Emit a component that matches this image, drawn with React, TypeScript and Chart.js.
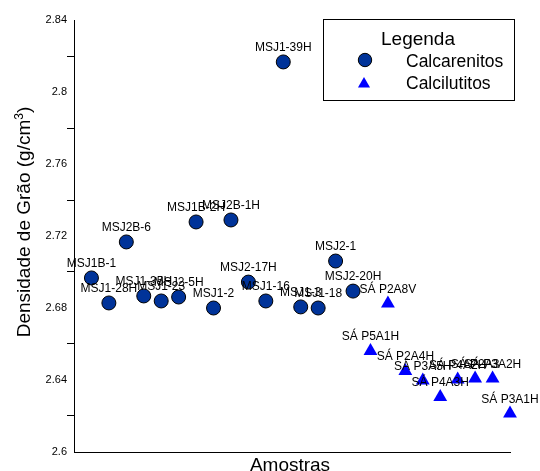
import React, { useEffect, useRef } from 'react';
import { Chart, registerables } from 'chart.js';

Chart.register(...registerables);

const FONT = '"Liberation Sans", Arial, Helvetica, sans-serif';

// Calcarenitos
const calcareniteNames = [
  'MSJ1B-1', 'MSJ1-28H', 'MSJ2B-6', 'MSJ1-35H', 'MSJ1-23', 'MSJ2-5H', 'MSJ1B-2H', 'MSJ1-2',
  'MSJ2B-1H', 'MSJ2-17H', 'MSJ1-16', 'MSJ1-39H', 'MSJ1-3', 'MSJ1-18', 'MSJ2-1', 'MSJ2-20H',
];
const calcareniteX = [1, 2, 3, 4, 5, 6, 7, 8, 9, 10, 11, 12, 13, 14, 15, 16];
const calcareniteY = [
  2.6967, 2.6828, 2.7167, 2.6867, 2.6839, 2.6861, 2.7278, 2.68,
  2.7289, 2.6944, 2.6839, 2.8167, 2.6806, 2.68, 2.7061, 2.6894,
];

// Calcilutitos
const calciluteNames = [
  'SÁ P5A1H', 'SÁ P2A8V', 'SÁ P2A4H', 'SÁ P3A5H', 'SÁ P4A3H', 'SÁ P4A2H', 'SÁ P2A3', 'SÁ P3A2H', 'SÁ P3A1H',
];
const calciluteX = [17, 18, 19, 20, 21, 22, 23, 24, 25];
const calciluteY = [2.6561, 2.6825, 2.645, 2.6397, 2.6306, 2.6403, 2.6408, 2.6408, 2.6214];

const seriesNames = ['Calcarenitos', 'Calcilutitos'];
const legendTitle = 'Legenda';
const xTitle = 'Amostras';
const yTitleMain = 'Densidade de Grão (g/cm';
const yTitleSup = '3';
const yTitleEnd = ')';

const Y_MIN = 2.6;
const Y_MAX = 2.84;
const Y_STEP = 0.02;
const X_MIN = 0;
const X_MAX = 25;

const CIRCLE_FILL = '#003399';
const TRI_FILL = '#0000ff';

const pointLabels = [calcareniteNames, calciluteNames];

const isMajor = (v: number) => Math.round(v * 100) % 4 === 0;

const labelPlugin = {
  id: 'pointLabels',
  afterDatasetsDraw(chart: any) {
    const ctx = chart.ctx;
    ctx.save();
    ctx.font = `12px ${FONT}`;
    ctx.fillStyle = '#000';
    ctx.textAlign = 'center';
    ctx.textBaseline = 'middle';
    chart.data.datasets.forEach((_ds: any, i: number) => {
      const meta = chart.getDatasetMeta(i);
      meta.data.forEach((el: any, j: number) => {
        ctx.fillText(pointLabels[i][j], el.x, el.y - 14);
      });
    });
    ctx.restore();
  },
};

const decorPlugin = {
  id: 'decor',
  afterDraw(chart: any) {
    const ctx = chart.ctx;
    const area = chart.chartArea;
    ctx.save();
    // Legend box
    const bx = 323, by = 19, bw = 191, bh = 81;
    ctx.fillStyle = '#fff';
    ctx.fillRect(bx, by, bw, bh);
    ctx.strokeStyle = '#000';
    ctx.lineWidth = 1;
    ctx.strokeRect(bx + 0.5, by + 0.5, bw, bh);
    ctx.fillStyle = '#000';
    ctx.textAlign = 'center';
    ctx.textBaseline = 'alphabetic';
    ctx.font = `19px ${FONT}`;
    ctx.fillText(legendTitle, 418, 45);
    // circle
    ctx.beginPath();
    ctx.arc(365, 60, 6.7, 0, Math.PI * 2);
    ctx.fillStyle = CIRCLE_FILL;
    ctx.fill();
    ctx.strokeStyle = '#000';
    ctx.stroke();
    // triangle
    const tr = 7;
    ctx.beginPath();
    for (let k = 0; k < 3; k++) {
      const a = (k * 2 * Math.PI) / 3;
      const px = 364 + Math.sin(a) * tr;
      const py = 84 - Math.cos(a) * tr;
      if (k === 0) ctx.moveTo(px, py);
      else ctx.lineTo(px, py);
    }
    ctx.closePath();
    ctx.fillStyle = TRI_FILL;
    ctx.fill();
    ctx.fillStyle = '#000';
    ctx.textAlign = 'left';
    ctx.font = `17.5px ${FONT}`;
    ctx.fillText(seriesNames[0], 406, 66.5);
    ctx.fillText(seriesNames[1], 406, 89);

    // X title
    ctx.textAlign = 'center';
    ctx.font = `19px ${FONT}`;
    ctx.fillText(xTitle, (area.left + area.right) / 2 - 2, 470.5);

    // Y title (rotated, with superscript)
    ctx.save();
    ctx.translate(30, 222);
    ctx.rotate(-Math.PI / 2);
    const mainFont = `19px ${FONT}`;
    const supFont = `12px ${FONT}`;
    ctx.font = mainFont;
    const w1 = ctx.measureText(yTitleMain).width;
    const w3 = ctx.measureText(yTitleEnd).width;
    ctx.font = supFont;
    const w2 = ctx.measureText(yTitleSup).width;
    const total = w1 + w2 + w3;
    let x0 = -total / 2;
    ctx.textAlign = 'left';
    ctx.font = mainFont;
    ctx.fillText(yTitleMain, x0, 0);
    x0 += w1;
    ctx.font = supFont;
    ctx.fillText(yTitleSup, x0, -7);
    x0 += w2;
    ctx.font = mainFont;
    ctx.fillText(yTitleEnd, x0, 0);
    ctx.restore();

    ctx.restore();
  },
};

export default function App() {
  const canvasRef = useRef<HTMLCanvasElement | null>(null);

  useEffect(() => {
    const canvas = canvasRef.current;
    if (!canvas) return;
    const chart = new Chart(canvas, {
      type: 'scatter',
      data: {
        datasets: [
          {
            label: seriesNames[0],
            data: calcareniteX.map((x, i) => ({ x, y: calcareniteY[i] })),
            pointStyle: 'circle',
            pointRadius: 7,
            pointHoverRadius: 7,
            backgroundColor: CIRCLE_FILL,
            borderColor: '#000',
            borderWidth: 1,
            clip: false,
          },
          {
            label: seriesNames[1],
            data: calciluteX.map((x, i) => ({ x, y: calciluteY[i] })),
            pointStyle: 'triangle',
            pointRadius: 8,
            pointHoverRadius: 8,
            backgroundColor: TRI_FILL,
            borderColor: TRI_FILL,
            borderWidth: 0,
            clip: false,
          },
        ],
      },
      options: {
        responsive: false,
        animation: false,
        events: [],
        layout: { padding: { top: 20, right: 30, left: 0, bottom: 0 } },
        plugins: {
          legend: { display: false },
          tooltip: { enabled: false },
          title: { display: false },
        },
        scales: {
          x: {
            type: 'linear',
            min: X_MIN,
            max: X_MAX,
            border: { display: true, color: '#000', width: 1 },
            grid: { display: true, drawOnChartArea: false, drawTicks: false, color: 'transparent' },
            ticks: { display: false },
            afterFit: (scale: any) => {
              scale.height = 19;
            },
          },
          y: {
            type: 'linear',
            min: Y_MIN,
            max: Y_MAX,
            border: { display: true, color: '#000', width: 1 },
            grid: {
              display: true,
              drawOnChartArea: false,
              drawTicks: true,
              tickLength: 7,
              color: 'transparent',
              tickColor: (c: any) => (c.tick && isMajor(c.tick.value) ? 'transparent' : '#000'),
            },
            ticks: {
              stepSize: Y_STEP,
              padding: 0,
              color: '#000',
              font: { family: FONT, size: 11 },
              callback: (v: any) => (isMajor(Number(v)) ? String(Number(Number(v).toFixed(2))) : ''),
            },
            afterFit: (scale: any) => {
              scale.width = 74;
            },
          },
        },
      },
      plugins: [labelPlugin, decorPlugin],
    });
    return () => chart.destroy();
  }, []);

  return (
    <div style={{ position: 'fixed', left: 0, top: 0, width: 540, height: 471, background: '#fff' }}>
      <canvas ref={canvasRef} width={540} height={471} style={{ display: 'block' }} />
    </div>
  );
}
